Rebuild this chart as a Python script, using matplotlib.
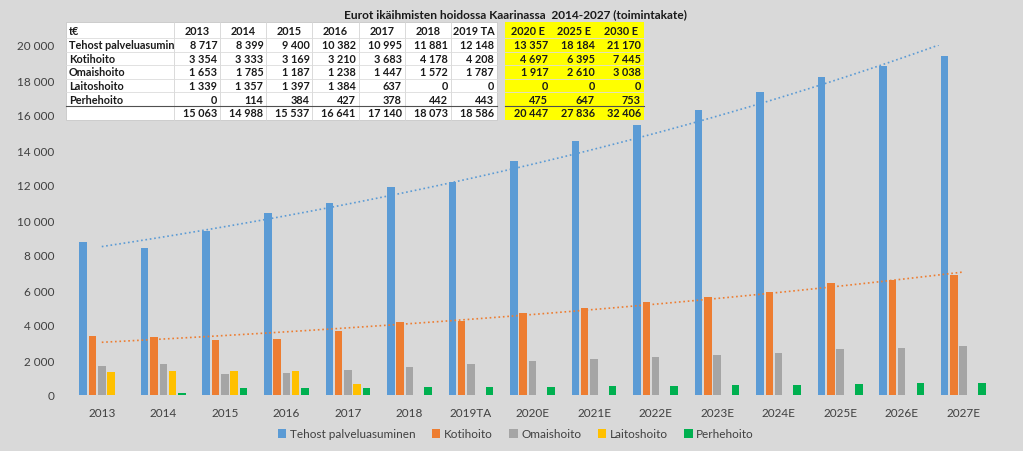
import numpy as np
import matplotlib
matplotlib.use("Agg")
import matplotlib.pyplot as plt
from matplotlib.patches import Rectangle
from matplotlib.lines import Line2D
from matplotlib.ticker import FuncFormatter

plt.rcParams["font.family"] = ["Lato", "DejaVu Sans"]

W, H = 1023, 452
bg = "#d9d9d9"

# chart data (t€)
categories = ["2013", "2014", "2015", "2016", "2017", "2018", "2019TA",
              "2020E", "2021E", "2022E", "2023E", "2024E", "2025E", "2026E", "2027E"]
tehost = [8717, 8399, 9400, 10382, 10995, 11881, 12148,
          13357, 14500, 15450, 16300, 17300, 18184, 18800, 19400]
koti = [3354, 3333, 3169, 3210, 3683, 4178, 4208,
        4697, 5000, 5300, 5600, 5900, 6395, 6600, 6850]
omais = [1653, 1785, 1187, 1238, 1447, 1572, 1787,
         1917, 2050, 2170, 2300, 2420, 2610, 2700, 2780]
laitos = [1339, 1357, 1397, 1384, 637, 0, 0,
          0, 0, 0, 0, 0, 0, 0, 0]
perhe = [0, 114, 384, 427, 378, 442, 443,
         475, 500, 530, 560, 590, 647, 670, 690]

series_names = ["Tehost palveluasuminen", "Kotihoito", "Omaishoito", "Laitoshoito", "Perhehoito"]
colors = ["#5b9bd5", "#ed7d31", "#a5a5a5", "#ffc000", "#00b050"]

# table data
table_cols = ["2013", "2014", "2015", "2016", "2017", "2018", "2019 TA"]
fc_cols = ["2020 E", "2025 E", "2030 E"]
table_vals = [tehost[:7], koti[:7], omais[:7], laitos[:7], perhe[:7]]
table_tot = [15063, 14988, 15537, 16641, 17140, 18073, 18586]
fc_vals = [[13357, 18184, 21170], [4697, 6395, 7445], [1917, 2610, 3038],
           [0, 0, 0], [475, 647, 753]]
fc_tot = [20447, 27836, 32406]


def fmt(v):
    return f"{v:,}".replace(",", " ")


def fx(x):
    return x / W


def fy(y):
    return 1 - y / H


fig = plt.figure(figsize=(W / 100, H / 100), dpi=100, facecolor=bg)
ax = fig.add_axes([fx(71), fy(396), fx(994) - fx(71), fy(46) - fy(396)])
ax.set_facecolor(bg)

data = [tehost, koti, omais, laitos, perhe]
x = np.arange(len(categories))
step, bw = 0.151, 0.122
for i, (vals, name, c) in enumerate(zip(data, series_names, colors)):
    ax.bar(x + (i - 2) * step, vals, width=bw, color=c, label=name, zorder=2)

# exponential trend lines (like Excel), drawn at category centres
trend_end = [len(x) - 1.4, len(x) - 1]
for i in (0, 1):
    b, a = np.polyfit(x + 1, np.log(data[i]), 1)
    tx = np.linspace(0, trend_end[i], 100)
    ax.plot(tx, np.exp(a + b * (tx + 1)), ls=":", lw=1.2,
            color=colors[i], zorder=3)

ax.set_xlim(-0.5, len(categories) - 0.5)
ax.set_ylim(0, 20000)
ax.set_yticks(np.arange(0, 20001, 2000))
ax.yaxis.set_major_formatter(FuncFormatter(lambda v, p: fmt(int(v))))
ax.set_xticks(x)
ax.set_xticklabels(categories)
ax.tick_params(axis="both", length=0, labelsize=8.5, colors="#404040")
ax.tick_params(axis="y", pad=12)
ax.tick_params(axis="x", pad=9)
for s in ax.spines.values():
    s.set_visible(False)

ax.legend(loc="center", bbox_to_anchor=(fx(516), fy(435)), bbox_transform=fig.transFigure,
          ncol=5, frameon=False, fontsize=8.5, handlelength=0.7, handleheight=0.7,
          columnspacing=1.4, handletextpad=0.3, labelcolor="#404040")

fig.text(fx(516), fy(15), "Eurot ikäihmisten hoidossa Kaarinassa  2014-2027 (toimintakate)",
         ha="center", va="center", fontsize=8.6, fontweight="bold", color="#1a1a1a")

# embedded table
top, bot = 23, 121
row_y = [31.5] + [45.8 + 13.6 * k for k in range(6)]
fig.add_artist(Rectangle((fx(66), fy(bot)), fx(497) - fx(66), fy(top) - fy(bot),
                         transform=fig.transFigure, facecolor="white", edgecolor="#c8c8c8", lw=0.6, zorder=5))
fig.add_artist(Rectangle((fx(505), fy(bot)), fx(644) - fx(505), fy(top) - fy(bot),
                         transform=fig.transFigure, facecolor="#ffff00", edgecolor="none", zorder=5))

col_edges = [174 + 46.14 * k for k in range(8)]
fc_edges = [505 + 46.33 * k for k in range(4)]

for xe in col_edges[:-1]:
    fig.add_artist(Line2D([fx(xe), fx(xe)], [fy(top), fy(bot)], transform=fig.transFigure,
                          color="#d4d4d4", lw=0.6, zorder=6))
for k in range(6):
    yl = (row_y[k] + row_y[k + 1]) / 2
    dark = k == 5
    for x0, x1 in ((66, 497), (505, 644)):
        fig.add_artist(Line2D([fx(x0), fx(x1)], [fy(yl), fy(yl)], transform=fig.transFigure,
                              color="#505050" if dark else "#dcdcdc", lw=0.8 if dark else 0.6, zorder=6))

tkw = dict(fontsize=7.8, fontweight="bold", color="#1a1a1a", va="center", zorder=7)
clip = Rectangle((fx(66), fy(bot)), fx(174) - fx(66), fy(top) - fy(bot), transform=fig.transFigure)
fig.text(fx(69), fy(row_y[0]), "t€", ha="left", **tkw)
for r, name in enumerate(series_names):
    t = fig.text(fx(69), fy(row_y[r + 1]), name, ha="left", **tkw)
    t.set_clip_path(clip)
for j, col in enumerate(table_cols):
    xc = (col_edges[j] + col_edges[j + 1]) / 2
    fig.text(fx(xc), fy(row_y[0]), col, ha="center", **tkw)
    xr = col_edges[j + 1] - 3
    for r in range(5):
        fig.text(fx(xr), fy(row_y[r + 1]), fmt(table_vals[r][j]), ha="right", **tkw)
    fig.text(fx(xr), fy(row_y[6]), fmt(table_tot[j]), ha="right", **tkw)
for j, col in enumerate(fc_cols):
    xc = (fc_edges[j] + fc_edges[j + 1]) / 2
    fig.text(fx(xc), fy(row_y[0]), col, ha="center", **tkw)
    xr = fc_edges[j + 1] - 3
    for r in range(5):
        fig.text(fx(xr), fy(row_y[r + 1]), fmt(fc_vals[r][j]), ha="right", **tkw)
    fig.text(fx(xr), fy(row_y[6]), fmt(fc_tot[j]), ha="right", **tkw)

fig.savefig("out.png", dpi=100, facecolor=bg)
